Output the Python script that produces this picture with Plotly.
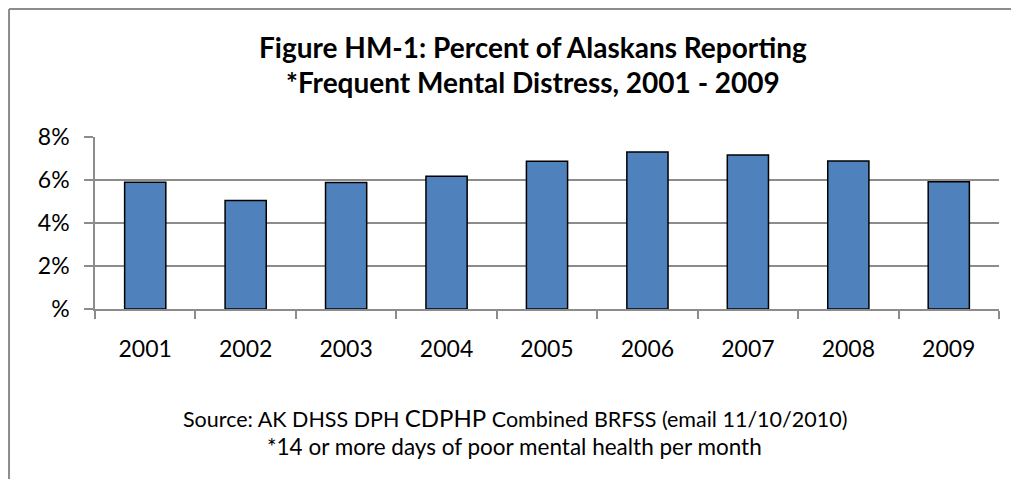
import plotly.graph_objects as go

# Datos
years = ["2001", "2002", "2003", "2004", "2005", "2006", "2007", "2008", "2009"]
pct = [5.9, 5.05, 5.88, 6.18, 6.87, 7.3, 7.16, 6.88, 5.92]
y_ticks = [0, 2, 4, 6, 8]
y_labels = ["%", "2%", "4%", "6%", "8%"]

FONT = "Lato"
GRIS = "#8c8c8c"

fig = go.Figure(go.Bar(
    x=years,
    y=pct,
    marker=dict(color="#4f81bd", line=dict(color="black", width=1.5)),
    width=0.41,
))

# el body de la página tiene 8px de margen, así que se descuentan
fig.update_layout(
    width=1011,
    height=471,
    margin=dict(l=87, r=20, t=129, b=170),
    paper_bgcolor="white",
    plot_bgcolor="white",
    showlegend=False,
    font=dict(family=FONT, color="black"),
)

fig.update_xaxes(
    type="category",
    tickson="boundaries",
    ticks="outside",
    ticklen=8,
    tickcolor=GRIS,
    tickwidth=1.5,
    showline=True,
    linecolor=GRIS,
    linewidth=1.5,
    showgrid=False,
    tickfont=dict(size=23),
    ticklabelstandoff=19,
)

fig.update_yaxes(
    range=[0, 8],
    tickvals=y_ticks,
    ticktext=y_labels,
    ticks="outside",
    ticklen=9,
    tickcolor=GRIS,
    tickwidth=1.5,
    showline=True,
    linecolor=GRIS,
    linewidth=1.5,
    showgrid=True,
    gridcolor=GRIS,
    gridwidth=1.5,
    zeroline=False,
    tickfont=dict(size=23),
    ticklabelstandoff=10,
)

# Título en dos líneas
for texto, yy in [("<b>Figure HM-1: Percent of Alaskans Reporting</b>", 1.523),
                  ("<b>*Frequent Mental Distress, 2001 - 2009</b>", 1.320)]:
    fig.add_annotation(text=texto, xref="paper", yref="paper", x=0.4845, y=yy,
                       xanchor="center", yanchor="middle",
                       showarrow=False, font=dict(size=28))

# Nota de fuente
fig.add_annotation(text="Source: AK DHSS DPH <span style='font-size:24px'>CDPHP</span> Combined BRFSS (email 11/10/2010)",
                   xref="paper", yref="paper", x=0.4645, y=-0.628,
                   xanchor="center", yanchor="middle",
                   showarrow=False, font=dict(size=21.5))
fig.add_annotation(text="*14 or more days of poor mental health per month",
                   xref="paper", yref="paper", x=0.4645, y=-0.802,
                   xanchor="center", yanchor="middle",
                   showarrow=False, font=dict(size=22.5))

# Marco del gráfico (izquierda y arriba)
fig.add_shape(type="line", xref="paper", yref="paper",
              x0=-0.0951, x1=-0.0951, y0=-1.0, y1=1.744,
              line=dict(color=GRIS, width=2))
fig.add_shape(type="line", xref="paper", yref="paper",
              x0=-0.0951, x1=1.03, y0=1.744, y1=1.744,
              line=dict(color=GRIS, width=2))

fig.write_html("out.html")
